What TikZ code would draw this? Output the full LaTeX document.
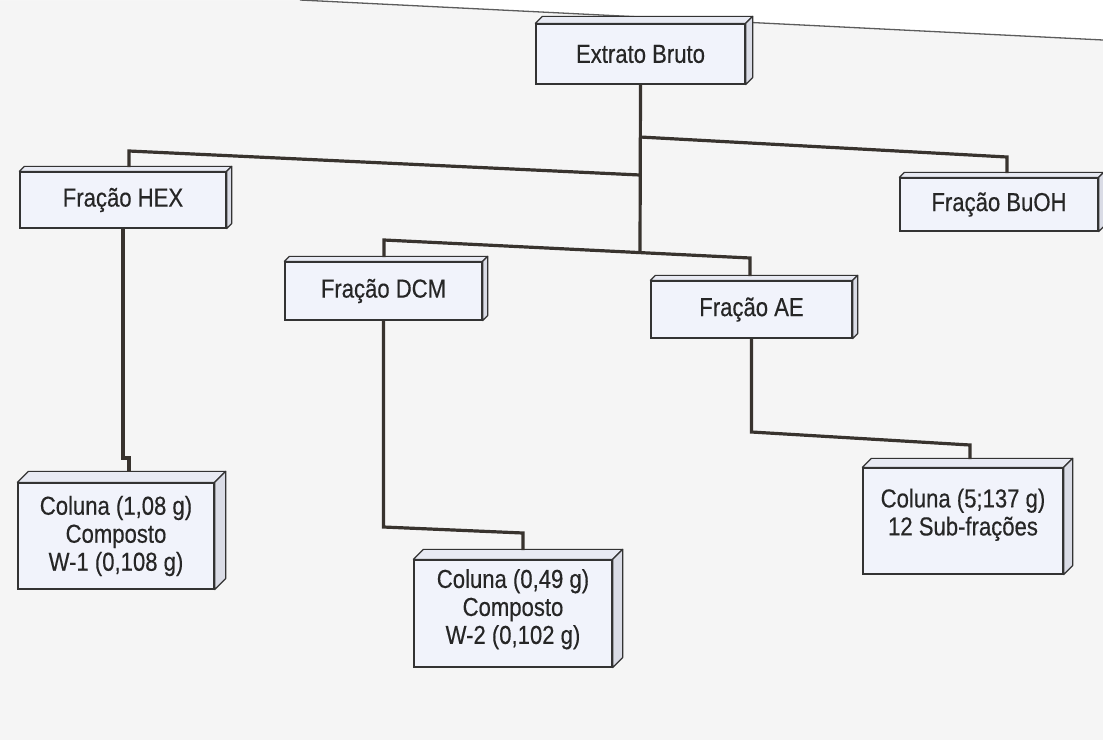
\documentclass[tikz,border=0pt]{standalone}
\usepackage{fontspec}
\setmainfont{Liberation Sans}[FakeStretch=0.85,FakeBold=0.4]
\definecolor{bg}{HTML}{F5F5F5}
\definecolor{front}{HTML}{F1F3FB}
\definecolor{topc}{HTML}{E8EAF3}
\definecolor{sidec}{HTML}{DADCE6}
\definecolor{edge}{HTML}{333333}
\definecolor{wire}{HTML}{38332E}
\definecolor{ink}{HTML}{262626}
\newcommand{\boxfaces}[2]{%
  \filldraw[face, fill=topc] (#1.north west) -- ++(#2,-#2) -- ([shift={(#2,-#2)}]#1.north east) -- (#1.north east) -- cycle;
  \filldraw[face, fill=sidec] (#1.north east) -- ++(#2,-#2) -- ([shift={(#2,-#2)}]#1.south east) -- (#1.south east) -- cycle;
}
\begin{document}
\begin{tikzpicture}[x=1pt,y=-1pt,
  box/.style={draw=edge, line width=1.3pt, fill=front, rectangle, inner sep=0pt,
    align=center, text=ink, font=\fontsize{26}{28}\selectfont},
  face/.style={draw=edge, line width=1.2pt, line join=round},
  conn/.style={draw=wire, line width=3.2pt, line join=miter},
  pageedge/.style={draw=edge!80, line width=1.3pt}]
\useasboundingbox (0,0) rectangle (1103,740);
\fill[bg] (0,0) rectangle (1103,740);
\fill[white] (0,0) -- (1103,0) -- (1103,40) -- (300,0) -- cycle;
\draw[pageedge] (300,0) -- (1103,40);

% boxes
\node[box, minimum width=209pt, minimum height=60pt] (ext) at (640.5,54) {Extrato Bruto};
\node[box, minimum width=206pt, minimum height=56pt] (hex) at (123,200) {Fração HEX};
\node[box, minimum width=198pt, minimum height=53pt] (buoh) at (999,204.5) {Fração BuOH};
\node[box, minimum width=197pt, minimum height=58pt] (dcm) at (383.5,291) {Fração DCM};
\node[box, minimum width=201pt, minimum height=57pt] (ae) at (751.5,309.5) {Fração AE};
\node[box, minimum width=196pt, minimum height=106pt] (c1) at (116,536) {Coluna (1,08 g)\\Composto\\W-1 (0,108 g)};
\node[box, minimum width=198pt, minimum height=107pt] (c2) at (513,613.5) {Coluna (0,49 g)\\Composto\\W-2 (0,102 g)\\[-14pt]\mbox{}};
\node[box, minimum width=200pt, minimum height=106pt] (c3) at (963,521) {Coluna (5;137 g)\\12 Sub-frações\\[-10pt]\mbox{}};

\boxfaces{ext}{7}
\boxfaces{hex}{5}
\boxfaces{buoh}{5}
\boxfaces{dcm}{5}
\boxfaces{ae}{5}
\boxfaces{c1}{11}
\boxfaces{c2}{10}
\boxfaces{c3}{9}

% junctions
\coordinate (tB) at (640,252.6);
\coordinate (rA) at (640,137);
\coordinate (rB) at (1007,157);
\coordinate (rC) at (1007,173);
\coordinate (lA) at (640,175);
\coordinate (lB) at (129,151);
\coordinate (lC) at (129,167);
\coordinate (mA) at (384,240);
\coordinate (mB) at (750,258);
\coordinate (mC) at (384,257);
\coordinate (mD) at (750,276);
\coordinate (hA) at (123,458);
\coordinate (hB) at (129,458);
\coordinate (hC) at (129,472);
\coordinate (dA) at (383.5,527);
\coordinate (dB) at (523,533);
\coordinate (dC) at (523,550);
\coordinate (aA) at (751.5,432);
\coordinate (aB) at (970,445);
\coordinate (aC) at (970,459);

% connectors
\draw[conn] (ext.south) -- (tB);
\draw[conn] (rA) -- (rB) -- (rC);
\draw[conn] (lA) -- (lB) -- (lC);
\draw[conn] (mC) -- (mA) -- (mB) -- (mD);
\draw[conn] (hex.south) -- (hA) -- (hB) -- (hC);
\draw[conn] (dcm.south) -- (dA) -- (dB) -- (dC);
\draw[conn] (ae.south) -- (aA) -- (aB) -- (aC);
\end{tikzpicture}
\end{document}
